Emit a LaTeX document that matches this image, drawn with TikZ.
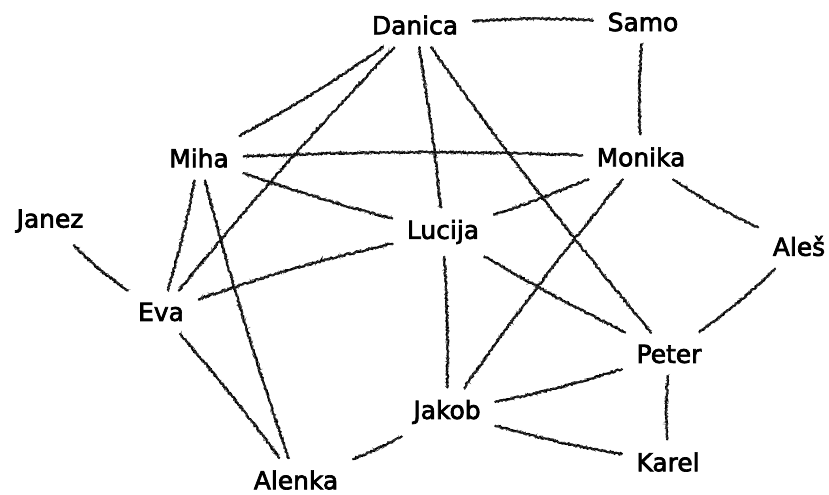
\documentclass[tikz,border=0pt]{standalone}
\usepackage{fontspec}
\setmainfont{DejaVu Sans}
\newcommand\heavytext[1]{\special{pdf:literal direct 2 Tr 0.7 w}#1\special{pdf:literal direct 0 Tr}}
\usetikzlibrary{decorations.pathmorphing}
\begin{document}
\begin{tikzpicture}[x=1bp,y=-1bp,
  person/.style={inner xsep=14bp, inner ysep=12bp, font=\fontsize{25}{30}\selectfont},
  crayon/.style={draw=black, line width=2bp,
    decorate, decoration={random steps, segment length=1.6bp, amplitude=0.9bp}},
  crayonfine/.style={draw=black!80, line width=0.6bp,
    decorate, decoration={random steps, segment length=1.1bp, amplitude=1.8bp}}]
\pgfmathsetseed{4242}
\useasboundingbox (0,0) rectangle (829,495);
\node[person] (danica) at (415,25) {\heavytext{Danica}};
\node[person] (samo) at (643,22) {\heavytext{Samo}};
\node[person] (miha) at (199,158) {\heavytext{Miha}};
\node[person] (monika) at (641,157) {\heavytext{Monika}};
\node[person] (janez) at (50,221) {\heavytext{Janez}};
\node[person] (lucija) at (443,232) {\heavytext{Lucija}};
\node[person] (ales) at (799,246) {\heavytext{Aleš}};
\node[person] (eva) at (161,312) {\heavytext{Eva}};
\node[person] (peter) at (669,354) {\heavytext{Peter}};
\node[person] (jakob) at (447,412) {\heavytext{Jakob}};
\node[person] (karel) at (668,462) {\heavytext{Karel}};
\node[person] (alenka) at (296,480) {\heavytext{Alenka}};
\foreach \a/\b/\bd in {danica/samo/3, samo/monika/-3, danica/miha/3, danica/eva/-2,
  danica/lucija/2, danica/peter/-2, miha/monika/2, miha/lucija/-2, miha/eva/3,
  miha/alenka/-2, janez/eva/-6, eva/lucija/3, eva/alenka/2, monika/lucija/2,
  monika/ales/-5, monika/jakob/-2, ales/peter/4, lucija/peter/-2, lucija/jakob/2,
  peter/jakob/3, peter/karel/-3, jakob/karel/-3, jakob/alenka/4}{
  \path[crayon] (\a) to[bend left=\bd] (\b);
  \path[crayonfine] (\a) to[bend left=\bd] (\b);
}
\end{tikzpicture}
\end{document}
